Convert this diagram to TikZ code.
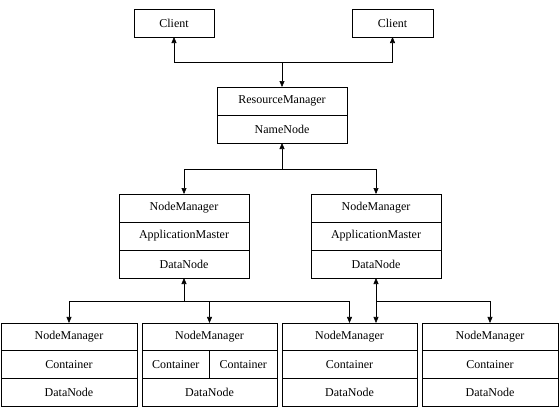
\documentclass[tikz,border=0pt]{standalone}
\usepackage{fontspec}
\setmainfont{Liberation Serif}
\usetikzlibrary{arrows.meta,positioning}
\tikzset{cell/.style={rectangle,draw=black,line width=0.8pt,inner sep=0pt,outer sep=0pt,font=\fontsize{12}{14}\selectfont}}
\tikzset{link/.style={->,>={Triangle[length=6pt,width=5pt]},line width=0.6pt}}

\begin{document}
\begin{tikzpicture}[x=1pt,y=-1pt]
\useasboundingbox (0,0) rectangle (559,413);
% clients and master
\node (c1) [cell,minimum width=80pt,minimum height=28pt] at (174,23) {Client};
\node (c2) [cell,minimum width=81pt,minimum height=28pt] at (392.5,23) {Client};
\node (rm1) [cell,minimum width=130pt,minimum height=28pt] at (282,101) {ResourceManager};
\node (nn) [cell,minimum width=130pt,minimum height=28pt,below=0pt of rm1] {NameNode};
%
\node (ml1) [cell,minimum width=130pt,minimum height=28pt] at (184,208) {NodeManager};
\node (ml2) [cell,minimum width=130pt,minimum height=28pt,below=0pt of ml1] {ApplicationMaster};
\node (ml3) [cell,minimum width=130pt,minimum height=28pt,below=0pt of ml2] {DataNode};
\node (mr1) [cell,minimum width=130pt,minimum height=28pt] at (376,208) {NodeManager};
\node (mr2) [cell,minimum width=130pt,minimum height=28pt,below=0pt of mr1] {ApplicationMaster};
\node (mr3) [cell,minimum width=130pt,minimum height=28pt,below=0pt of mr2] {DataNode};
%
\node (b1a) [cell,minimum width=136pt,minimum height=27.7pt] at (69,336.8) {NodeManager};
\node (b1b) [cell,minimum width=136pt,minimum height=27.7pt,below=0pt of b1a] {Container};
\node (b1c) [cell,minimum width=136pt,minimum height=27.7pt,below=0pt of b1b] {DataNode};
\node (b2a) [cell,minimum width=135pt,minimum height=27.7pt] at (209.5,336.8) {NodeManager};
\node (b2b) [cell,minimum width=67.5pt,minimum height=27.7pt,below right=0pt and 0pt of b2a.south west] {Container};
\node (b2c) [cell,minimum width=67.5pt,minimum height=27.7pt,right=0pt of b2b] {Container};
\node (b2d) [cell,minimum width=135pt,minimum height=27.7pt,below=0pt of b2b.south east] {DataNode};
\node (b3a) [cell,minimum width=135pt,minimum height=27.7pt] at (349.5,336.8) {NodeManager};
\node (b3b) [cell,minimum width=135pt,minimum height=27.7pt,below=0pt of b3a] {Container};
\node (b3c) [cell,minimum width=135pt,minimum height=27.7pt,below=0pt of b3b] {DataNode};
\node (b4a) [cell,minimum width=136pt,minimum height=27.7pt] at (490,336.8) {NodeManager};
\node (b4b) [cell,minimum width=136pt,minimum height=27.7pt,below=0pt of b4a] {Container};
\node (b4c) [cell,minimum width=136pt,minimum height=27.7pt,below=0pt of b4b] {DataNode};
%
\coordinate (j1) at (282,62);
\coordinate (j2) at (282,169);
\coordinate (j3) at (184,301);
\coordinate (j4) at (376,301);
\coordinate (b3in) at (j4 |- b3a.north);
%
\draw[link] (j1) -- (rm1);
\draw[link] (j1) -| (c1);
\draw[link] (j1) -| (c2);
\draw[link] (j2) -- (nn);
\draw[link] (j2) -| (ml1);
\draw[link] (j2) -| (mr1);
\draw[link] (j3) -- (ml3);
\draw[link] (j3) -| (b1a);
\draw[link] (j3) -| (b2a);
\draw[link] (j3) -| (b3a);
\draw[link] (j4) -- (mr3);
\draw[link] (j4) -- (b3in);
\draw[link] (j4) -| (b4a);
\end{tikzpicture}
\end{document}
